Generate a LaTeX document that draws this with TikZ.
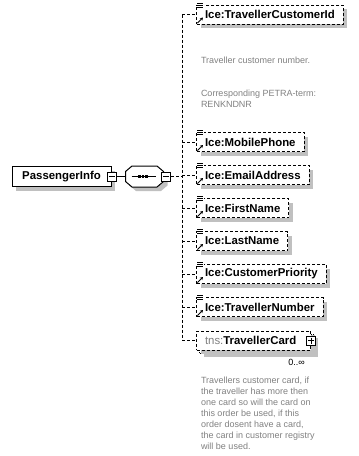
\documentclass[tikz,border=0pt]{standalone}
\usepackage{fontspec}
\setsansfont{Liberation Sans}
\usepackage{xcolor}
\usepackage{tikz}
\usetikzlibrary{positioning,calc,shadows,arrows.meta}
\definecolor{xsdgray}{HTML}{808080}
\definecolor{xsdshadow}{HTML}{C0C0C0}
\newcommand{\XsdLabelFont}{\fontsize{11.4}{13}\selectfont\sffamily\bfseries}
\newcommand{\XsdDocFont}{\fontsize{9}{10.95}\selectfont\sffamily}

\begin{document}
\begin{tikzpicture}[x=1pt, y=-1pt, line width=1pt,
    shdw/.style={drop shadow={shadow xshift=4pt, shadow yshift=-4pt, fill=xsdshadow, opacity=1}},
    elembox/.style={draw, dash pattern=on 3pt off 2pt, fill=white, shdw, minimum height=19pt, inner xsep=8.5pt, inner ysep=0pt, font=\XsdLabelFont},
    rootbox/.style={draw, solid, fill=white, shdw, minimum width=99pt, minimum height=20pt, inner sep=0pt, font=\XsdLabelFont},
    btn/.style={draw, solid, fill=white, minimum size=9pt, inner sep=0pt},
    conn/.style={dash pattern=on 3pt off 2pt},
    doc/.style={font=\XsdDocFont, text=xsdgray, align=left, inner sep=0pt, anchor=west},
]
\useasboundingbox (0,0) rectangle (359,456);
\coordinate (spine) at (182,0);

% root element and sequence compositor
\node[rootbox] (pinfo) at (61.5,176.5) {PassengerInfo};
\node[btn] (pbtn) at (pinfo.east) {};
\draw ($(pbtn.center)+(-3,0)$) -- ($(pbtn.center)+(3,0)$);

\node[minimum width=37pt, minimum height=20pt, inner sep=0pt] (seq) at (144.5,176.5) {};
\def\cx{6.5}
\def\cy{5.5}
\draw[fill=white, shdw] ($(seq.north west)+(\cx,0)$) -- ($(seq.north east)+(-\cx,0)$)
    -- ($(seq.north east)+(0,\cy)$) -- ($(seq.south east)+(0,-\cy)$)
    -- ($(seq.south east)+(-\cx,0)$) -- ($(seq.south west)+(\cx,0)$)
    -- ($(seq.south west)+(0,-\cy)$) -- ($(seq.north west)+(0,\cy)$) -- cycle;
\draw ($(seq.center)+(-13,0)$) -- ($(seq.center)+(11,0)$);
\foreach \d in {-5,-1.5,2} {
    \fill ($(seq.center)+(\d-1.25,-1.25)$) rectangle +(2.5,2.5);
}
\node[btn] (seqbtn) at ($(seq.east)+(2.5,0)$) {};
\draw ($(seqbtn.center)+(-3,0)$) -- ($(seqbtn.center)+(3,0)$);
\draw (pbtn.east) -- (seq.west);

% referenced child elements
\foreach \n/\t/\y in {ecid/TravellerCustomerId/14.5, emob/MobilePhone/142, email/EmailAddress/175,
                      efirst/FirstName/208, elast/LastName/241, eprio/CustomerPriority/274,
                      enum/TravellerNumber/307} {
    \node[elembox, anchor=west] (\n) at (196,\y) {Ice:\t};
    \fill[white] ($(\n.north west)+(0.5,-2.5)$) rectangle ($(\n.north west)+(7.5,4.5)$);
    \foreach \k in {-1.5,0.5,2.5} {
        \draw[line width=0.8pt] ($(\n.north west)+(1,\k)$) -- ($(\n.north west)+(7,\k)$);
    }
    \draw[line width=1pt, -{Stealth[length=3pt,width=3.5pt]}]
        ($(\n.south west)+(1.5,-1.5)$) -- ($(\n.south west)+(7,-7)$);
    \draw[conn] (spine |- \n.west) -- (\n.west);
}

% local complex element, 0..unbounded
\node[elembox, anchor=west] (tcback) at (199,343.5) {\phantom{\mdseries tns:}\phantom{TravellerCard}\hspace*{6pt}};
\node[elembox, anchor=west, drop shadow={opacity=0}] (tc) at (196,340.5) {\textcolor{xsdgray}{\mdseries tns:}TravellerCard\hspace*{6pt}};
\node[btn] (tcbtn) at (tc.east) {};
\draw ($(tcbtn.center)+(-3,0)$) -- ($(tcbtn.center)+(3,0)$);
\draw ($(tcbtn.center)+(0,-3)$) -- ($(tcbtn.center)+(0,3)$);
\node[font=\XsdDocFont, anchor=north east, inner sep=0pt] (tcocc) at ($(tcback.south east)+(-9,5)$) {0..∞};
\draw[conn] (spine |- tc.west) -- (tc.west);

% spine of the sequence
\draw[conn] (spine |- ecid.west) -- (spine |- tc.west);
\draw[conn] (seqbtn.east) -- (seqbtn.east -| spine);

% annotations
\node[doc] (doccid) at (200.5,60) {Traveller customer number.};
\node[doc] (doccidb) at (200.5,98.5) {Corresponding PETRA-term:\\RENKNDNR};
\node[doc] (doctc) at (200.5,413) {Travellers customer card, if\\the traveller has more then\\one card so will the card on\\this order be used, if this\\order dosent have a card,\\the card in customer registry\\will be used.};
\end{tikzpicture}
\end{document}
